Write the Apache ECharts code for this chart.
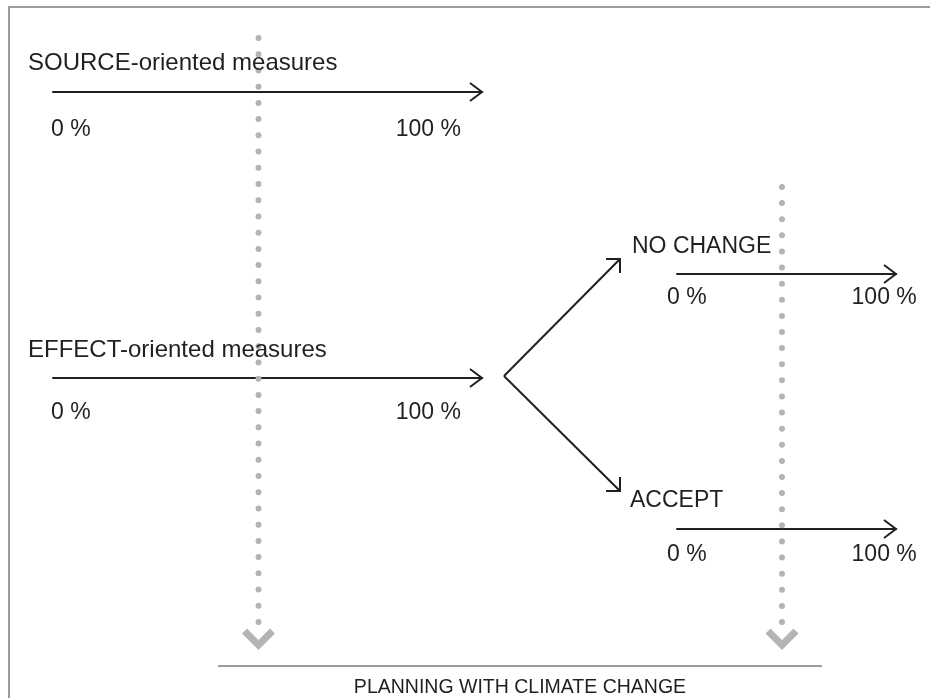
<!DOCTYPE html>
<html><head><meta charset="utf-8">
<script src="https://cdn.jsdelivr.net/npm/echarts@6/dist/echarts.min.js"></script>
<style>html,body{margin:0;padding:0;background:#fff}#main{width:930px;height:698px}</style>
</head><body><div id="main"></div>
<script>
// ---------------- data ----------------
const measureCategories = ['SOURCE-oriented measures', 'EFFECT-oriented measures'];
const outcomeCategories = ['NO CHANGE', 'ACCEPT'];
const scaleTicks = [0, 100];          // percentage scale end points shown on every arrow
const tickUnit = ' %';
const footerTitle = 'PLANNING WITH CLIMATE CHANGE';

// ---------------- layout / style ----------------
const W = 930, H = 698;
const FONT = 'Liberation Sans';
const INK = '#231f20';
const GUIDE = '#b4b4b7';
const FRAME = '#9c9c9c';
const LABEL_SIZE = 23;
const FOOTER_SIZE = 19.5;
const DOT_SPACING = 16.2;

// one entry per percentage scale (index-aligned with the titles below)
const scaleTitles = [measureCategories[0], measureCategories[1], outcomeCategories[0], outcomeCategories[1]];
const scaleLayout = [
  {left: 53,  right: 482, y: 92,  min: -5, max: 115, margin: 38, tx: 28,  ty: 63,  titleSize: 24},
  {left: 53,  right: 482, y: 378, min: -5, max: 115, margin: 35, tx: 28,  ty: 350, titleSize: 24},
  {left: 677, right: 896, y: 274, min: -5, max: 106, margin: 24, tx: 632, ty: 247, titleSize: 23},
  {left: 677, right: 896, y: 529, min: -5, max: 106, margin: 26, tx: 630, ty: 501, titleSize: 23}
];
const guideLayout = [
  {x: 258.5, y0: 38,  y1: 622, chevronY: 631},
  {x: 782,   y0: 187, y1: 622, chevronY: 631}
];
const branchLayout = {vx: 504, vy: 376, tx: 620, upY: 259, downY: 491, head: 14};
const frameLayout = {x: 9, y: 7};
const ruleLayout = {x0: 218, x1: 822, y: 666, textY: 688};

const OVERLAY = scaleLayout.length;

const grids = scaleLayout.map(L => ({
  left: L.left, top: L.y - 20, width: L.right - L.left, height: 20, outerBoundsMode: 'none'
}));
grids.push({left: 0, top: 0, width: W, height: H, outerBoundsMode: 'none'});

const xAxes = scaleLayout.map((L, i) => ({
  gridIndex: i, type: 'value', min: L.min, max: L.max, interval: 5, position: 'bottom',
  axisLine: {show: true, onZero: false, lineStyle: {color: INK, width: 2}},
  axisTick: {show: false}, splitLine: {show: false},
  axisLabel: {
    show: true, margin: L.margin, verticalAlign: 'middle', color: INK,
    fontSize: LABEL_SIZE, fontFamily: FONT, showMinLabel: true, showMaxLabel: true,
    formatter: v => scaleTicks.indexOf(v) >= 0 ? v + tickUnit : ''
  }
}));
xAxes.push({gridIndex: OVERLAY, type: 'value', min: 0, max: W, show: false});

const yAxes = scaleLayout.map((L, i) => ({gridIndex: i, type: 'value', min: 0, max: 1, show: false}));
yAxes.push({gridIndex: OVERLAY, type: 'value', min: 0, max: H, inverse: true, show: false});

// arrow heads at the end of each percentage axis
const headSeries = scaleLayout.map((L, i) => ({
  type: 'custom', xAxisIndex: i, yAxisIndex: i, silent: true, clip: false,
  data: [[L.max, 0]],
  renderItem: (params, api) => {
    const p = api.coord([api.value(0), api.value(1)]);
    return {type: 'polyline', shape: {points: [[p[0] - 12, p[1] - 9], [p[0], p[1]], [p[0] - 12, p[1] + 9]]},
      style: {stroke: INK, lineWidth: 2, fill: null}};
  }
}));

const overlaySeries = {
  type: 'custom', xAxisIndex: OVERLAY, yAxisIndex: OVERLAY, silent: true, clip: false,
  data: [[0, 0]],
  renderItem: (params, api) => {
    const c = (x, y) => api.coord([x, y]);
    const children = [];
    // frame (top + left edges)
    children.push({type: 'polyline', shape: {points: [c(frameLayout.x, H), c(frameLayout.x, frameLayout.y), c(W, frameLayout.y)]},
      style: {stroke: FRAME, lineWidth: 2, fill: null}});
    // bottom rule
    const r0 = c(ruleLayout.x0, ruleLayout.y), r1 = c(ruleLayout.x1, ruleLayout.y);
    children.push({type: 'line', shape: {x1: r0[0], y1: r0[1], x2: r1[0], y2: r1[1]}, style: {stroke: FRAME, lineWidth: 2}});
    // dotted guides + chevrons
    guideLayout.forEach(g => {
      const a = c(g.x, g.y0), b = c(g.x, g.y1);
      const len = b[1] - a[1];
      const n = Math.round(len / DOT_SPACING);
      const period = len / n;
      children.push({type: 'line', shape: {x1: a[0], y1: a[1], x2: b[0], y2: b[1] + 1},
        style: {stroke: GUIDE, lineWidth: 6, lineCap: 'round', lineDash: [0.01, period - 0.01]}});
      children.push({type: 'polyline', shape: {points: [c(g.x - 14, g.chevronY), c(g.x, g.chevronY + 14), c(g.x + 14, g.chevronY)]},
        style: {stroke: GUIDE, lineWidth: 7, lineJoin: 'miter', fill: null}});
    });
    // branch arrows
    const B = branchLayout;
    [B.upY, B.downY].forEach(ty => {
      const dir = ty < B.vy ? 1 : -1;
      children.push({type: 'polyline', shape: {points: [c(B.vx, B.vy), c(B.tx, ty)]}, style: {stroke: INK, lineWidth: 2, fill: null}});
      children.push({type: 'polyline', shape: {points: [c(B.tx - B.head, ty), c(B.tx, ty), c(B.tx, ty + dir * B.head)]},
        style: {stroke: INK, lineWidth: 2, fill: null}});
    });
    // titles of the scales
    scaleLayout.forEach((L, i) => {
      const p = c(L.tx, L.ty);
      children.push({type: 'text', x: p[0], y: p[1], style: {text: scaleTitles[i], fill: INK,
        fontSize: L.titleSize, fontFamily: FONT, align: 'left', verticalAlign: 'middle'}});
    });
    // footer
    const f = c((ruleLayout.x0 + ruleLayout.x1) / 2, ruleLayout.textY);
    children.push({type: 'text', x: f[0], y: f[1], style: {text: footerTitle, fill: INK,
      fontSize: FOOTER_SIZE, fontFamily: FONT, align: 'center', verticalAlign: 'middle'}});
    return {type: 'group', children};
  }
};

const chart = echarts.init(document.getElementById('main'), null, {renderer: 'canvas'});
chart.setOption({
  animation: false,
  backgroundColor: '#ffffff',
  grid: grids,
  xAxis: xAxes,
  yAxis: yAxes,
  series: headSeries.concat([overlaySeries])
});
</script>
</body></html>
